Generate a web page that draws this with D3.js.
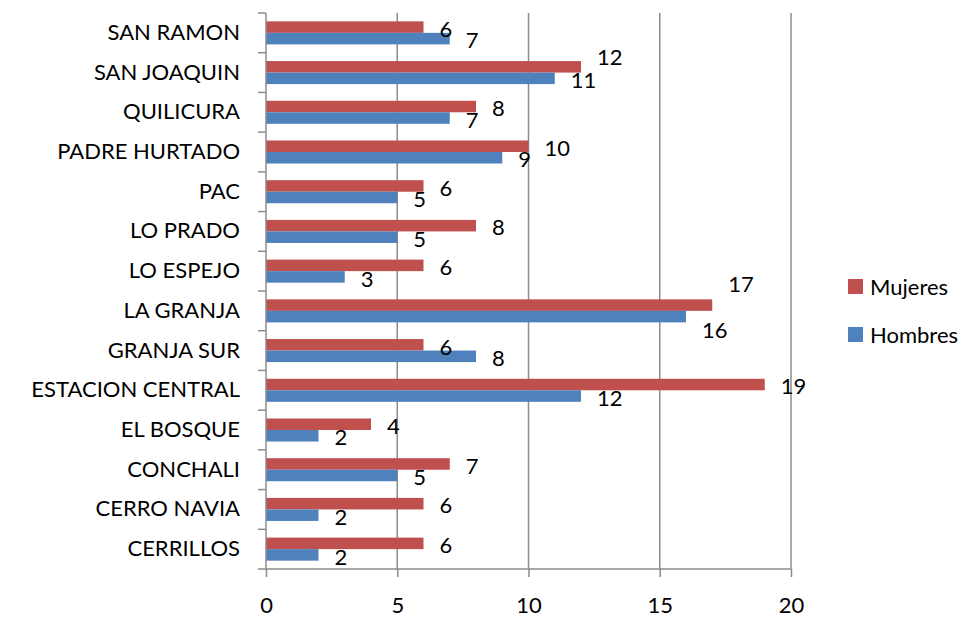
<!DOCTYPE html>
<html>
<head>
<meta charset="utf-8">
<script src="https://cdn.jsdelivr.net/npm/d3@7"></script>
<style>
  body { margin: 0; background: #fff; }
  #chart-container { width: 980px; height: 622px; }
  text { font-family: Lato, "Open Sans", sans-serif; fill: #000; }
</style>
</head>
<body>
<div id="chart-container"></div>
<script>
const chartContainer = document.getElementById("chart-container");

// comunas, de arriba hacia abajo
const categories = [
  "SAN RAMON",
  "SAN JOAQUIN",
  "QUILICURA",
  "PADRE HURTADO",
  "PAC",
  "LO PRADO",
  "LO ESPEJO",
  "LA GRANJA ",
  "GRANJA SUR",
  "ESTACION CENTRAL",
  "EL BOSQUE",
  "CONCHALI",
  "CERRO NAVIA",
  "CERRILLOS",
];
const mujeres = [6, 12, 8, 10, 6, 8, 6, 17, 6, 19, 4, 7, 6, 6];
const hombres = [7, 11, 7, 9, 5, 5, 3, 16, 8, 12, 2, 5, 2, 2];
const seriesNames = ["Mujeres", "Hombres"];
const xTicks = [0, 5, 10, 15, 20];

const colors = { Mujeres: "#C0504D", Hombres: "#4F81BD" };
const fontSize = "22px";

const width = 980;
const height = 622;
const margin = { top: 13, right: 189, bottom: 53, left: 266 };
const graphWidth = width - margin.left - margin.right;
const graphHeight = height - margin.top - margin.bottom;

const svg = d3
  .select(chartContainer)
  .append("svg")
  .attr("width", width)
  .attr("height", height);

const graph = svg
  .append("g")
  .attr("transform", `translate(${margin.left}, ${margin.top})`);

const x = d3.scaleLinear().domain([0, 20]).range([0, graphWidth]);

const y = d3
  .scaleBand()
  .domain(categories)
  .range([0, graphHeight])
  .paddingInner(0.42)
  .paddingOuter(0.21);

const ySub = d3.scaleBand().domain(seriesNames).range([0, y.bandwidth()]);

// gridlines
graph
  .append("g")
  .selectAll("line")
  .data(xTicks.filter((t) => t > 0))
  .enter()
  .append("line")
  .attr("x1", (d) => x(d))
  .attr("x2", (d) => x(d))
  .attr("y1", 0)
  .attr("y2", graphHeight)
  .attr("stroke", "#8c8c8c")
  .attr("stroke-width", 1.5);

const rows = categories.map((c, i) => ({
  cat: c,
  values: [
    { name: "Mujeres", v: mujeres[i] },
    { name: "Hombres", v: hombres[i] },
  ],
}));

const groups = graph
  .selectAll(".grp")
  .data(rows)
  .enter()
  .append("g")
  .attr("class", "grp")
  .attr("transform", (d) => `translate(0, ${y(d.cat)})`);

groups
  .selectAll("rect")
  .data((d) => d.values)
  .enter()
  .append("rect")
  .attr("x", 0)
  .attr("y", (d) => ySub(d.name))
  .attr("width", (d) => x(d.v))
  .attr("height", ySub.bandwidth())
  .attr("fill", (d) => colors[d.name]);

// excel moved a few labels to avoid overlap
const labelNudge = {
  "SAN JOAQUIN": { Mujeres: -12, Hombres: 0 },
  "LA GRANJA ": { Mujeres: -23, Hombres: 12 },
};

groups
  .selectAll(".lbl")
  .data((d) => d.values.map((v) => ({ ...v, cat: d.cat })))
  .enter()
  .append("text")
  .attr("class", "lbl")
  .attr("x", (d) => x(d.v) + 16)
  .attr("y", (d) => {
    const n = labelNudge[d.cat] ? labelNudge[d.cat][d.name] : 0;
    return ySub(d.name) + ySub.bandwidth() / 2 + 2 + n;
  })
  .attr("dy", "0.35em")
  .style("font-size", fontSize)
  .text((d) => d.v);

// axes
const xAxis = d3.axisBottom(x).tickValues(xTicks).tickSize(8).tickPadding(20);
const yAxis = d3.axisLeft(y).tickSize(0).tickPadding(26);

const gXAxis = graph
  .append("g")
  .attr("transform", `translate(0, ${graphHeight})`)
  .call(xAxis);
gXAxis.select(".domain").remove();
gXAxis
  .append("line")
  .attr("x1", -8)
  .attr("x2", graphWidth)
  .attr("stroke", "#8c8c8c")
  .attr("stroke-width", 1.5);
gXAxis.selectAll(".tick line").attr("stroke", "#8c8c8c").attr("stroke-width", 1.5);
gXAxis.selectAll("text").style("font-size", fontSize).attr("fill", "#000");

const gYAxis = graph.append("g").call(yAxis);
gYAxis.select(".domain").remove();
gYAxis
  .append("line")
  .attr("y1", 0)
  .attr("y2", graphHeight)
  .attr("stroke", "#8c8c8c")
  .attr("stroke-width", 1.5);
// category boundary ticks
gYAxis
  .selectAll(".bound")
  .data(d3.range(categories.length))
  .enter()
  .append("line")
  .attr("class", "bound")
  .attr("x1", -8)
  .attr("x2", 0)
  .attr("y1", (i) => (graphHeight / categories.length) * i)
  .attr("y2", (i) => (graphHeight / categories.length) * i)
  .attr("stroke", "#8c8c8c")
  .attr("stroke-width", 1.5);
gYAxis.selectAll("text").style("font-size", fontSize).attr("fill", "#000");

// legend
const legend = svg
  .append("g")
  .attr("transform", "translate(848, 279)");
const li = legend
  .selectAll("g")
  .data(seriesNames)
  .enter()
  .append("g")
  .attr("transform", (d, i) => `translate(0, ${i * 48})`);
li.append("rect")
  .attr("width", 15)
  .attr("height", 15)
  .attr("fill", (d) => colors[d]);
li.append("text")
  .attr("x", 22)
  .attr("y", 8)
  .attr("dy", "0.35em")
  .style("font-size", fontSize)
  .text((d) => d);
</script>
</body>
</html>
